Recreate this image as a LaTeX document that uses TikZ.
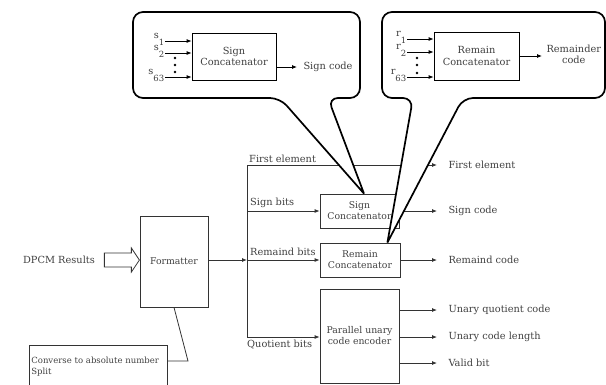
\documentclass[tikz,border=0pt]{standalone}
\usepackage{fontspec}
\setmainfont{DejaVu Serif}
\usetikzlibrary{arrows.meta,calc}
\tikzset{
    % node style
    every node/.style = {text=black!75, font=\fontsize{9.8}{11}\selectfont},
    % arrow style
    >={Latex[width=4pt, length=5pt]},
    % plain signal line
    wire/.style = {draw=black!80, line width=0.8pt},
    % output arrow (stops short of its text)
    outarrow/.style = {wire, ->, shorten >=8pt},
    % abstract base block style
    base/.style = {
        draw=black!80, line width=0.8pt, rectangle,
        align=center, inner sep=0pt
    },
    % special block styles (inherited from base style)
    block/.style = {base, font=\fontsize{9.3}{11}\selectfont},
    bigblock/.style = {base, draw=black, font=\fontsize{9.8}{11.5}\selectfont},
    % callout bubble
    callout/.style = {draw=black, fill=white, line width=1.7pt, rounded corners=10pt},
    % dots between inputs
    vdot/.style = {circle, fill=black, inner sep=0pt, minimum size=2.6pt},
    % input names s_i, r_i
    inname/.style = {anchor=east, inner sep=0.5pt, yshift=2pt}
}
\newcommand{\lowsub}[2]{#1\raisebox{-7pt}{\fontsize{8.5}{9}\selectfont #2}}

\begin{document}
\begin{tikzpicture}[x=1pt, y=-1pt]
        \useasboundingbox (0,0) rectangle (606,384);
        % place blocks of the datapath
        \node (dpcm) at (59,260) {DPCM Results};
        \node[block, minimum width=68, minimum height=91] (fmt) at (174,261.5) {Formatter};
        \node[block, minimum width=79, minimum height=34] (signcat) at (359.5,211) {Sign\\Concatenator};
        \node[block, minimum width=80, minimum height=34] (remcat) at (360,260) {Remain\\Concatenator};
        \node[block, minimum width=79, minimum height=94] (encoder) at (359.5,336) {Parallel unary\\code encoder};
        \node[block, anchor=north west, minimum width=138, minimum height=43, text width=134,
              align=left, font=\fontsize{8.5}{11}\selectfont] (convert) at (29,345) {Converse to absolute number\\Split};
        % hollow input arrow
        \draw[wire] (dpcm.east) ++(6,-7) -- ++(27,0) -- ++(0,-5) -- ++(8,12) -- ++(-8,12) -- ++(0,-5) -- ++(-27,0) -- cycle;
        % formatter note
        \coordinate (fmtbend) at (188,361);
        \draw[wire] (fmt.south) -- (fmtbend) -- (fmtbend -| convert.east);
        % distribution bus
        \coordinate (bustop) at (247,165);
        \coordinate (busmid) at (247,260);
        \coordinate (busbot) at (247,337);
        \draw[wire] (bustop) -- (busbot);
        \draw[wire, ->] (fmt.east |- busmid) -- (busmid);
        \draw[wire, ->] (busmid) -- (remcat.west |- busmid);
        \draw[wire, ->] (bustop |- signcat.west) -- (signcat.west);
        \draw[wire, ->] (busbot) -- (busbot -| encoder.west);
        % bus labels
        \node[anchor=south west, inner sep=2pt] (firstin) at (bustop) {First element};
        \node[anchor=south west, inner sep=3pt] (signin) at (bustop |- signcat.west) {Sign bits};
        \node[anchor=south west, inner sep=3pt, yshift=1pt] (remin) at (busmid) {Remaind bits};
        \node[anchor=north west, inner sep=3pt, xshift=-3pt] (quotin) at (busbot) {Quotient bits};
        % outputs
        \node[anchor=west] (firstout) at (445,165) {First element};
        \node[anchor=west] (signout) at (445,211) {Sign code};
        \node[anchor=west] (remout) at (445,260) {Remaind code};
        \node[anchor=west] (quotout) at (445,310) {Unary quotient code};
        \node[anchor=west] (lenout) at (445,337) {Unary code length};
        \node[anchor=west] (validout) at (445,363) {Valid bit};
        \draw[outarrow] (bustop) -- (firstout.west);
        \draw[outarrow] (signcat.east |- signout) -- (signout.west);
        \draw[outarrow] (remcat.east |- remout) -- (remout.west);
        \draw[outarrow] (encoder.east |- quotout) -- (quotout.west);
        \draw[outarrow] (encoder.east |- lenout) -- (lenout.west);
        \draw[outarrow] (encoder.east |- validout) -- (validout.west);
        % callout bubbles
        \coordinate (signtip) at ($(signcat.north)+(4.5,0)$);
        \coordinate (remtip) at ($(remcat.north east)+(-13,0)$);
        \draw[callout] (signtip) -- (280,98) -- (133,98) -- (133,12) -- (360,12) -- (360,98) -- (328,98) -- (signtip);
        \draw[callout] (remtip) -- (413,98) -- (382,98) -- (382,12) -- (605,12) -- (605,98) -- (463,98) -- (remtip);
        % sign concatenator detail
        \node[bigblock, minimum width=84, minimum height=47] (csign) at (234,56.5) {Sign\\Concatenator};
        \coordinate (s1in) at (165,41);
        \coordinate (s2in) at (165,53);
        \coordinate (s63in) at (165,77);
        \node[inname] (s1) at (s1in) {\lowsub{s}{1}};
        \node[inname] (s2) at (s2in) {\lowsub{s}{2}};
        \node[inname] (s63) at (s63in) {\lowsub{s}{63}};
        \foreach \p in {s1in, s2in, s63in}
            \draw[wire, draw=black, ->] (\p) -- (\p -| csign.west);
        \foreach \y in {58, 65, 72}
            \node[vdot] at (175,\y) {};
        \node[anchor=west] (signcode) at (300,67) {Sign code};
        \draw[wire, draw=black, ->, shorten >=3pt] (csign.east |- signcode) -- (signcode.west);
        % remain concatenator detail
        \node[bigblock, minimum width=85, minimum height=48] (crem) at (476.5,56) {Remain\\Concatenator};
        \coordinate (r1in) at (407,39);
        \coordinate (r2in) at (407,52);
        \coordinate (r63in) at (407,77);
        \node[inname] (r1) at (r1in) {\lowsub{r}{1}};
        \node[inname] (r2) at (r2in) {\lowsub{r}{2}};
        \node[inname] (r63) at (r63in) {\lowsub{r}{63}};
        \foreach \p in {r1in, r2in, r63in}
            \draw[wire, draw=black, ->] (\p) -- (\p -| crem.west);
        \foreach \y in {58, 65, 73}
            \node[vdot] at (417,\y) {};
        \node[align=center, anchor=west] (remcode) at (543,54) {Remainder\\code};
        \draw[wire, draw=black, ->, shorten >=1pt] (crem.east) -- (crem.east -| remcode.west);
    \end{tikzpicture}
\end{document}
